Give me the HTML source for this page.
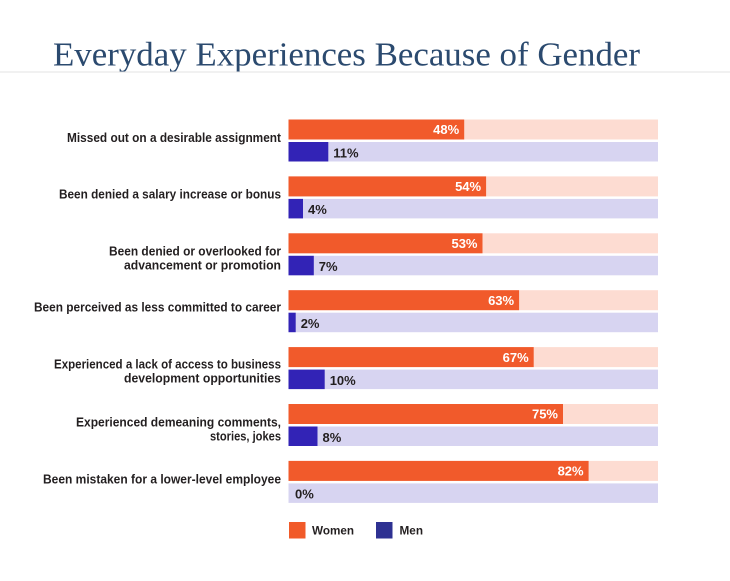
<!DOCTYPE html>
<html>
<head>
<meta charset="utf-8">
<style>
  html,body{margin:0;padding:0;background:#ffffff;}
  svg{display:block;}
  .lbl{font-family:"Liberation Sans",Arial,sans-serif;font-weight:bold;font-size:12.5px;fill:#231f20;}
  .wv{font-family:"Liberation Sans",Arial,sans-serif;font-weight:bold;font-size:13px;fill:#ffffff;}
  .mv{font-family:"Liberation Sans",Arial,sans-serif;font-weight:bold;font-size:13px;fill:#231f20;}
  .leg{font-family:"Liberation Sans",Arial,sans-serif;font-weight:bold;font-size:12px;fill:#231f20;}
</style>
</head>
<body>
<svg width="730" height="581" viewBox="0 0 730 581" xmlns="http://www.w3.org/2000/svg">
  <rect x="0" y="0" width="730" height="581" fill="#ffffff"/>
  <!-- Title -->
  <text x="53" y="65.5" font-family="'Liberation Serif','DejaVu Serif',serif" font-size="33.5" fill="#2b4a6f" textLength="587" lengthAdjust="spacingAndGlyphs">Everyday Experiences Because of Gender</text>
  <rect x="0" y="71.5" width="730" height="1" fill="#e3e3e3"/>

  <!-- Row 1 -->
  <rect x="288.5" y="119.5" width="369.5" height="20" fill="#fddcd2"/>
  <rect x="288.5" y="119.5" width="175.7" height="20" fill="#f15a2b"/>
  <rect x="288.5" y="142" width="369.5" height="19.5" fill="#d7d4f1"/>
  <rect x="288.5" y="142" width="39.8" height="19.5" fill="#3223b6"/>
  <text class="wv" x="459.2" y="134.2" text-anchor="end">48%</text>
  <text class="mv" x="333.3" y="157.3">11%</text>
  <text class="lbl" x="281" y="141.8" text-anchor="end" textLength="214" lengthAdjust="spacingAndGlyphs">Missed out on a desirable assignment</text>

  <!-- Row 2 -->
  <rect x="288.5" y="176.4" width="369.5" height="20" fill="#fddcd2"/>
  <rect x="288.5" y="176.4" width="197.6" height="20" fill="#f15a2b"/>
  <rect x="288.5" y="198.9" width="369.5" height="19.5" fill="#d7d4f1"/>
  <rect x="288.5" y="198.9" width="14.5" height="19.5" fill="#3223b6"/>
  <text class="wv" x="481.1" y="191.1" text-anchor="end">54%</text>
  <text class="mv" x="308" y="214.2">4%</text>
  <text class="lbl" x="281" y="198.7" text-anchor="end" textLength="222" lengthAdjust="spacingAndGlyphs">Been denied a salary increase or bonus</text>

  <!-- Row 3 -->
  <rect x="288.5" y="233.3" width="369.5" height="20" fill="#fddcd2"/>
  <rect x="288.5" y="233.3" width="194.0" height="20" fill="#f15a2b"/>
  <rect x="288.5" y="255.8" width="369.5" height="19.5" fill="#d7d4f1"/>
  <rect x="288.5" y="255.8" width="25.3" height="19.5" fill="#3223b6"/>
  <text class="wv" x="477.5" y="248" text-anchor="end">53%</text>
  <text class="mv" x="318.8" y="271.1">7%</text>
  <text class="lbl" x="281" y="255.3" text-anchor="end" textLength="172" lengthAdjust="spacingAndGlyphs">Been denied or overlooked for</text>
  <text class="lbl" x="281" y="269.3" text-anchor="end" textLength="157" lengthAdjust="spacingAndGlyphs">advancement or promotion</text>

  <!-- Row 4 -->
  <rect x="288.5" y="290.2" width="369.5" height="20" fill="#fddcd2"/>
  <rect x="288.5" y="290.2" width="230.6" height="20" fill="#f15a2b"/>
  <rect x="288.5" y="312.7" width="369.5" height="19.5" fill="#d7d4f1"/>
  <rect x="288.5" y="312.7" width="7.2" height="19.5" fill="#3223b6"/>
  <text class="wv" x="514.1" y="304.9" text-anchor="end">63%</text>
  <text class="mv" x="300.7" y="328">2%</text>
  <text class="lbl" x="281" y="311.5" text-anchor="end" textLength="247" lengthAdjust="spacingAndGlyphs">Been perceived as less committed to career</text>

  <!-- Row 5 -->
  <rect x="288.5" y="347.1" width="369.5" height="20" fill="#fddcd2"/>
  <rect x="288.5" y="347.1" width="245.2" height="20" fill="#f15a2b"/>
  <rect x="288.5" y="369.6" width="369.5" height="19.5" fill="#d7d4f1"/>
  <rect x="288.5" y="369.6" width="36.2" height="19.5" fill="#3223b6"/>
  <text class="wv" x="528.7" y="361.8" text-anchor="end">67%</text>
  <text class="mv" x="329.7" y="384.9">10%</text>
  <text class="lbl" x="281" y="368.3" text-anchor="end" textLength="227" lengthAdjust="spacingAndGlyphs">Experienced a lack of access to business</text>
  <text class="lbl" x="281" y="382.3" text-anchor="end" textLength="157" lengthAdjust="spacingAndGlyphs">development opportunities</text>

  <!-- Row 6 -->
  <rect x="288.5" y="404" width="369.5" height="20" fill="#fddcd2"/>
  <rect x="288.5" y="404" width="274.5" height="20" fill="#f15a2b"/>
  <rect x="288.5" y="426.5" width="369.5" height="19.5" fill="#d7d4f1"/>
  <rect x="288.5" y="426.5" width="29.0" height="19.5" fill="#3223b6"/>
  <text class="wv" x="558" y="418.7" text-anchor="end">75%</text>
  <text class="mv" x="322.5" y="441.8">8%</text>
  <text class="lbl" x="281" y="426.5" text-anchor="end" textLength="205" lengthAdjust="spacingAndGlyphs">Experienced demeaning comments,</text>
  <text class="lbl" x="281" y="440.5" text-anchor="end" textLength="71" lengthAdjust="spacingAndGlyphs">stories, jokes</text>

  <!-- Row 7 -->
  <rect x="288.5" y="460.9" width="369.5" height="20" fill="#fddcd2"/>
  <rect x="288.5" y="460.9" width="300.1" height="20" fill="#f15a2b"/>
  <rect x="288.5" y="483.4" width="369.5" height="19.5" fill="#d7d4f1"/>
  <text class="wv" x="583.6" y="475.6" text-anchor="end">82%</text>
  <text class="mv" x="295" y="498.7">0%</text>
  <text class="lbl" x="281" y="483.5" text-anchor="end" textLength="238" lengthAdjust="spacingAndGlyphs">Been mistaken for a lower-level employee</text>

  <!-- Legend -->
  <rect x="289" y="522" width="16.5" height="16.5" fill="#f15a29"/>
  <text class="leg" x="312" y="534.3" textLength="42" lengthAdjust="spacingAndGlyphs">Women</text>
  <rect x="376" y="522" width="16.5" height="16.5" fill="#2e3192"/>
  <text class="leg" x="399.5" y="534.3" textLength="23.5" lengthAdjust="spacingAndGlyphs">Men</text>
</svg>
</body>
</html>
